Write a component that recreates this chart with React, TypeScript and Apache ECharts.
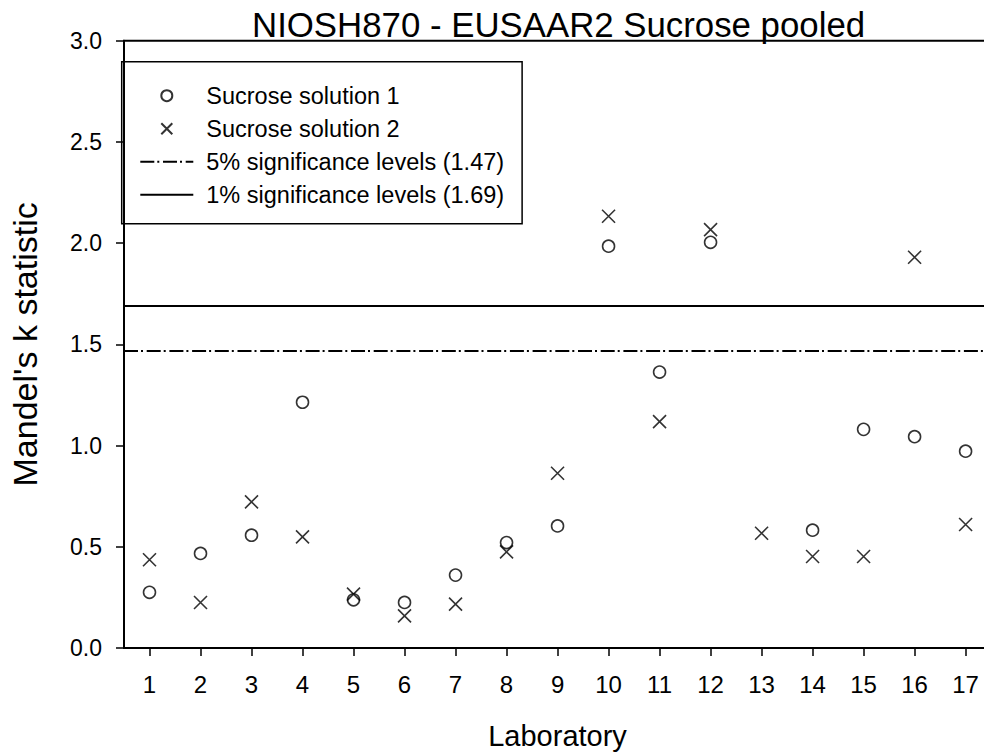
import React, { useEffect, useRef } from 'react';
import * as echarts from 'echarts';

const titleText = 'NIOSH870 - EUSAAR2 Sucrose pooled';
const xAxisTitle = 'Laboratory';
const yAxisTitle = "Mandel's k statistic";

const laboratories = ['1', '2', '3', '4', '5', '6', '7', '8', '9', '10', '11', '12', '13', '14', '15', '16', '17'];
const solution1: (number | null)[] = [0.275, 0.467, 0.557, 1.214, 0.238, 0.225, 0.36, 0.521, 0.603, 1.985, 1.363, 2.004, null, 0.582, 1.08, 1.044, 0.972];
const solution2: number[] = [0.436, 0.225, 0.722, 0.549, 0.266, 0.159, 0.217, 0.475, 0.863, 2.133, 1.118, 2.067, 0.567, 0.452, 0.452, 1.93, 0.61];
const sig5 = 1.47;
const sig1 = 1.69;
const yMin = 0;
const yMax = 3;
const yStep = 0.5;

const seriesNames = [
  'Sucrose solution 1',
  'Sucrose solution 2',
  '5% significance levels (1.47)',
  '1% significance levels (1.69)',
];

const FONT = 'Liberation Sans, Arial, sans-serif';
const CROSS = 'path://M0,0L10,10M10,0L0,10';
const DASH = [14, 3, 2, 3.7];
const HIDDEN = 'rgba(0,0,0,0)';

export default function App() {
  const ref = useRef<HTMLDivElement>(null);

  useEffect(() => {
    if (!ref.current) return;
    const chart = echarts.init(ref.current, null, { renderer: 'svg' });
    const option: any = {
      animation: false,
      backgroundColor: '#fff',
      textStyle: { fontFamily: FONT, color: '#000' },
      title: {
        text: titleText,
        left: 247,
        top: 2,
        textStyle: { fontFamily: FONT, fontSize: 34.8, fontWeight: 'normal', color: '#000' },
      },
      grid: {
        left: 121.7,
        right: 0.9,
        top: 40.7,
        bottom: 105.7,
        show: true,
        borderColor: '#000',
        borderWidth: 2,
        backgroundColor: 'transparent',
      },
      legend: {
        orient: 'vertical',
        left: 121.7,
        top: 61.7,
        padding: [22, 18, 17, 17.6],
        itemWidth: 53,
        itemHeight: 11,
        itemGap: 9,
        borderColor: '#000',
        borderWidth: 1.5,
        selectedMode: false,
        textStyle: { fontFamily: FONT, fontSize: 23.5, color: '#000', padding: [0, 0, 0, 8] },
        data: seriesNames,
      },
      xAxis: {
        type: 'category',
        data: laboratories,
        boundaryGap: true,
        name: xAxisTitle,
        nameLocation: 'middle',
        nameGap: 73,
        nameTextStyle: { fontFamily: FONT, fontSize: 29, color: '#000' },
        axisLine: { show: true, lineStyle: { color: '#000', width: 2 } },
        axisTick: { show: true, alignWithLabel: true, length: 8, inside: false, lineStyle: { color: '#000', width: 1.5 } },
        axisLabel: { fontFamily: FONT, fontSize: 24, color: '#000', margin: 24 },
        splitLine: { show: false },
      },
      yAxis: {
        type: 'value',
        min: yMin,
        max: yMax,
        interval: yStep,
        name: yAxisTitle,
        nameLocation: 'middle',
        nameRotate: 90,
        nameGap: 82,
        nameTextStyle: { fontFamily: FONT, fontSize: 34, color: '#000' },
        axisLine: { show: true, lineStyle: { color: '#000', width: 2 } },
        axisTick: { show: true, length: 8, inside: false, lineStyle: { color: '#000', width: 1.5 } },
        axisLabel: {
          fontFamily: FONT,
          fontSize: 23,
          color: '#000',
          margin: 22,
          formatter: (v: number) => v.toFixed(1),
        },
        splitLine: { show: false },
      },
      series: [
        {
          name: seriesNames[0],
          type: 'scatter',
          data: solution1,
          symbol: 'circle',
          symbolSize: 12,
          symbolKeepAspect: true,
          itemStyle: { color: HIDDEN, borderColor: '#000', borderWidth: 1.6 },
          z: 5,
        },
        {
          name: seriesNames[1],
          type: 'scatter',
          data: solution2,
          symbol: CROSS,
          symbolSize: 13,
          symbolKeepAspect: true,
          itemStyle: { color: HIDDEN, borderColor: '#000', borderWidth: 1.6 },
          z: 5,
        },
        {
          name: seriesNames[2],
          type: 'line',
          data: [],
          symbol: 'none',
          lineStyle: { color: '#000', width: 2, type: DASH },
          itemStyle: { color: HIDDEN, borderColor: HIDDEN, borderWidth: 0 },
          markLine: {
            silent: true,
            symbol: ['none', 'none'],
            label: { show: false },
            lineStyle: { color: '#000', width: 2, type: DASH },
            data: [{ yAxis: sig5 }],
          },
        },
        {
          name: seriesNames[3],
          type: 'line',
          data: [],
          symbol: 'none',
          lineStyle: { color: '#000', width: 2, type: 'solid' },
          itemStyle: { color: HIDDEN, borderColor: HIDDEN, borderWidth: 0 },
          markLine: {
            silent: true,
            symbol: ['none', 'none'],
            label: { show: false },
            lineStyle: { color: '#000', width: 2, type: 'solid' },
            data: [{ yAxis: sig1 }],
          },
        },
      ],
    };
    chart.setOption(option);
    return () => {
      chart.dispose();
    };
  }, []);

  return (
    <div
      ref={ref}
      style={{ position: 'fixed', left: 0, top: 0, width: 992, height: 755, background: '#fff' }}
    />
  );
}
